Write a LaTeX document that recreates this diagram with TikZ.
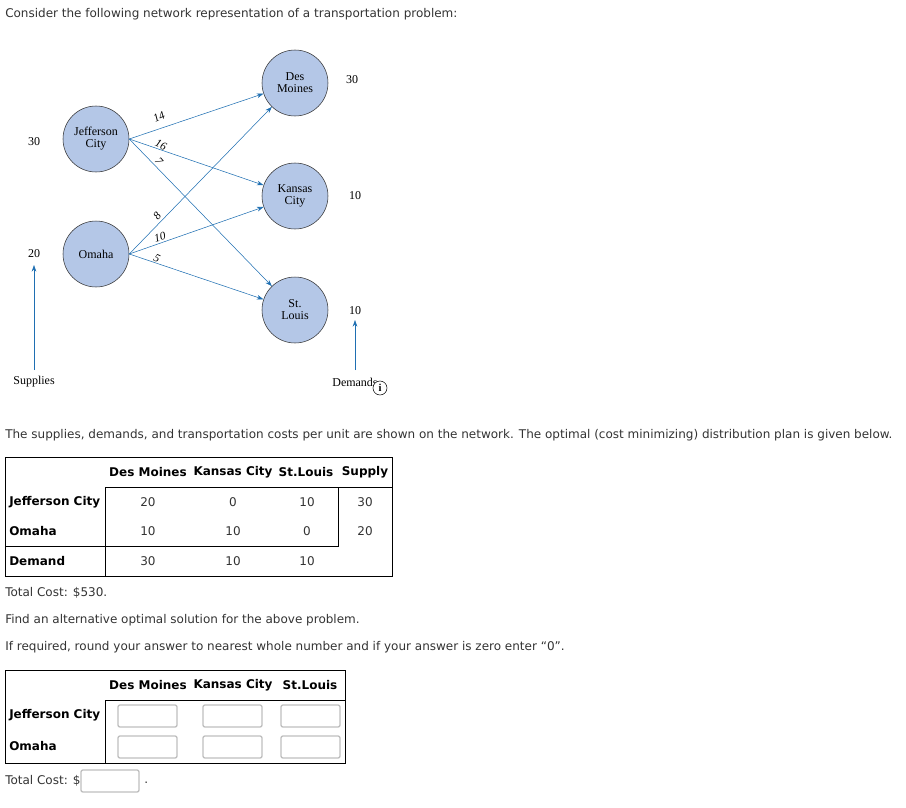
\documentclass[tikz,border=0pt]{standalone}
\usepackage{fontspec}
\setmainfont{DejaVu Sans}
\newfontfamily\serif{Liberation Serif}
\usetikzlibrary{arrows.meta}
\definecolor{arr}{HTML}{1F6FB2}
\definecolor{circ}{HTML}{B4C7E7}
\definecolor{txt}{HTML}{333333}
\begin{document}
\begin{tikzpicture}[x=0.75pt,y=-0.75pt,
  city/.style={circle,draw=black!80,fill=circ,minimum size=49.5pt,inner sep=0pt,align=center,font=\serif\fontsize{9}{9}\selectfont},
  lab/.style={font=\serif\fontsize{9}{10}\selectfont},
  elab/.style={font=\serif\itshape\fontsize{8.5}{9}\selectfont},
  conn/.style={draw=arr,-{Stealth[length=5pt,width=3.5pt]}},
  web/.style={font=\fontsize{9}{11}\selectfont,text=txt,anchor=west,inner sep=0pt},
  hd/.style={font=\bfseries\fontsize{9}{11}\selectfont,inner sep=0pt},
  cell/.style={font=\fontsize{9}{11}\selectfont,text=txt,inner sep=0pt},
  inbox/.style={draw=black!25,rounded corners=1.5pt,line width=1pt}]
\useasboundingbox (0,0) rectangle (906,807);
\node[web] (t1) at (5,14) {Consider the following network representation of a transportation problem:};
\node[city] (J) at (96,139) {Jefferson\\City};
\node[city] (O) at (96,254) {Omaha};
\node[city] (D) at (295,83) {Des\\Moines};
\node[city] (K) at (295,196) {Kansas\\City};
\node[city] (S) at (295,310) {St.\\Louis};
\draw[conn] (J.east) -- (D);
\draw[conn] (J.east) -- (K);
\draw[conn] (J.east) -- (S);
\draw[conn] (O.east) -- (D);
\draw[conn] (O.east) -- (K);
\draw[conn] (O.east) -- (S);
\node[elab,rotate=25] (e1) at (159,117) {14};
\node[elab,rotate=-25] (e2) at (161,145) {16};
\node[elab,rotate=-50] (e3) at (159,161) {7};
\node[elab,rotate=50] (e4) at (157,216) {8};
\node[elab,rotate=15] (e5) at (160,237) {10};
\node[elab,rotate=-25] (e6) at (157,258) {5};
\node[lab] (s30) at (34,142) {30};
\node[lab] (s20) at (34,254) {20};
\node[lab] (sup) at (34,382) {Supplies};
\coordinate (sb) at (34,370);
\draw[conn] (sb) -- (34,265);
\node[lab] (d30) at (352,80) {30};
\node[lab] (d10a) at (355,196) {10};
\node[lab] (d10b) at (355,311) {10};
\node[lab] (dem) at (355,382) {Demands};
\coordinate (db) at (355,370);
\draw[conn] (db) -- (355,320);
\node[circle,draw,fill=white,inner sep=0pt,minimum size=10.5pt,font=\serif\bfseries\fontsize{8}{8}\selectfont] (info) at (380,388) {i};
\node[web] (t2) at (5,435) {The supplies, demands, and transportation costs per unit are shown on the network. The optimal (cost minimizing) distribution plan is given below.};
% table 1
\draw (5,457) rectangle (392,576);
\draw (105,576) -- (105,487) -- (392,487);
\draw (338,487) -- (338,546) -- (5,546);
\node[hd] (h1) at (148,472) {Des Moines};
\node[hd] (h2) at (233,472) {Kansas City};
\node[hd] (h3) at (306,472) {St.Louis};
\node[hd] (h4) at (365,472) {Supply};
\node[hd,anchor=west] (r1) at (9,502) {Jefferson City};
\node[hd,anchor=west] (r2) at (9,531) {Omaha};
\node[hd,anchor=west] (r3) at (9,561) {Demand};
\foreach \x/\a/\b/\c in {148/20/10/30,233/0/10/10,307/10/0/10}{
  \node[cell] at (\x,502) {\a};
  \node[cell] at (\x,531) {\b};
  \node[cell] at (\x,561) {\c};}
\node[cell] (p1) at (365,502) {30};
\node[cell] (p2) at (365,531) {20};
\node[web] (t3) at (5,593) {Total Cost: \$530.};
\node[web] (t4) at (5,620) {Find an alternative optimal solution for the above problem.};
\node[web] (t5) at (5,647) {If required, round your answer to nearest whole number and if your answer is zero enter “0”.};
% table 2
\draw (5,670) rectangle (345,763);
\draw (105,763) -- (105,700) -- (345,700);
\node[hd] (g1) at (148,685) {Des Moines};
\node[hd] (g2) at (233,685) {Kansas City};
\node[hd] (g3) at (310,685) {St.Louis};
\node[hd,anchor=west] (q1) at (9,715) {Jefferson City};
\node[hd,anchor=west] (q2) at (9,746) {Omaha};
\foreach \x in {118,203,281}{
  \draw[inbox] (\x,705) rectangle ++(59,22);
  \draw[inbox] (\x,736) rectangle ++(59,22);}
\node[web] (t6) at (5,781) {Total Cost: \$};
\draw[inbox] (81,770) rectangle (139,792);
\node[web] (dot) at (144,783) {.};
\end{tikzpicture}
\end{document}
